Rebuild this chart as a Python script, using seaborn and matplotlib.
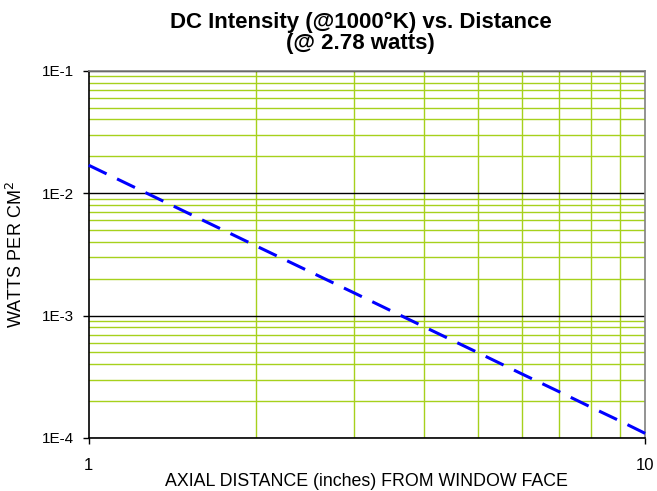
import numpy as np
import pandas as pd
import seaborn as sns
import matplotlib.pyplot as plt
from matplotlib.ticker import FixedLocator, NullFormatter

# values
distance = [1, 2, 3, 4, 5, 6, 7, 8, 9, 10]
intensity = [0.0169, 0.00370, 0.00153, 0.000812, 0.000499,
             0.000334, 0.000239, 0.000178, 0.000138, 0.000109]
ytick_vals = [1e-4, 1e-3, 1e-2, 1e-1]
ytick_labels = ['1E-4', '1E-3', '1E-2', '1E-1']
xtick_vals = [1, 10]
xtick_labels = ['1', '10']

df = pd.DataFrame({'dist': distance, 'watts': intensity})

sns.set_style('white')
plt.rcParams['font.family'] = ['Liberation Sans', 'DejaVu Sans']
plt.rcParams['text.color'] = 'black'
plt.rcParams['axes.labelcolor'] = 'black'
plt.rcParams['xtick.labelcolor'] = 'black'
plt.rcParams['ytick.labelcolor'] = 'black'

fig = plt.figure(figsize=(6.57, 4.91), dpi=100)
ax = fig.add_axes([0.135, 0.108, 0.847, 0.748])

green = '#a6d11c'
ax.set_xscale('log')
ax.set_yscale('log')
ax.set_xlim(1, 10)
ax.set_ylim(1e-4, 1e-1)

# minor grid (yellow-green) and major grid (black)
minor_y = [m * 10.0 ** e for e in (-4, -3, -2) for m in range(2, 10)]
minor_x = list(range(2, 10))
ax.yaxis.set_minor_locator(FixedLocator(minor_y))
ax.xaxis.set_minor_locator(FixedLocator(minor_x))
ax.yaxis.set_minor_formatter(NullFormatter())
ax.xaxis.set_minor_formatter(NullFormatter())
ax.grid(which='minor', color=green, lw=1.0)
ax.grid(which='major', axis='y', color='black', lw=1.0)
ax.set_axisbelow(True)

sns.lineplot(data=df, x='dist', y='watts', ax=ax, color='#0000ff', lw=2.2,
             dashes=False, zorder=5)
ax.lines[-1].set_dashes((6.5, 3.8))
ax.lines[-1].set_clip_on(False)

ax.set_yticks(ytick_vals)
ax.set_yticklabels(ytick_labels)
ax.set_xticks(xtick_vals)
ax.set_xticklabels(xtick_labels)
ax.tick_params(axis='y', which='major', labelsize=11, direction='out',
               length=4.3, width=1, color='black', labelcolor='black',
               pad=6.5, left=True)
ax.tick_params(axis='x', which='major', labelsize=12, direction='out',
               length=4.3, width=1, color='black', labelcolor='black',
               pad=10, bottom=True)
ax.tick_params(axis='both', which='minor', length=0)

for side in ('left', 'bottom'):
    ax.spines[side].set_color('black')
    ax.spines[side].set_linewidth(1.2)
for side in ('top', 'right'):
    ax.spines[side].set_color('#808080')
    ax.spines[side].set_linewidth(1.2)

ax.set_xlabel('AXIAL DISTANCE (inches) FROM WINDOW FACE', fontsize=12.8, color='black')
ax.xaxis.set_label_coords(0.5, -0.095)
ax.set_ylabel('WATTS PER CM$^2$', fontsize=13, color='black')
ax.yaxis.set_label_coords(-0.113, 0.5)
fig.text(0.549, 0.975, 'DC Intensity (@1000°K) vs. Distance\n(@ 2.78 watts)',
         ha='center', va='top', fontsize=16, fontweight='bold', linespacing=1.0,
         color='black')

fig.savefig('out.png', dpi=100)
